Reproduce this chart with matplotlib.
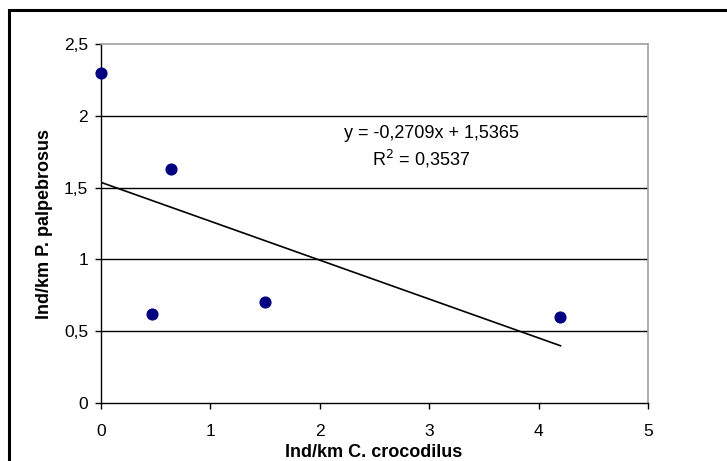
import matplotlib
matplotlib.use("Agg")
import matplotlib.pyplot as plt
from matplotlib.patches import Rectangle

plt.rcParams['font.family'] = ['Liberation Sans', 'DejaVu Sans']

x_vals = [0.0, 0.47, 0.64, 1.5, 4.2]
y_vals = [2.3, 0.62, 1.63, 0.70, 0.60]
slope = -0.2709
intercept = 1.5365
eq_text = "y = -0,2709x + 1,5365"
r2_text = "R$^2$ = 0,3537"
x_ticks = [0, 1, 2, 3, 4, 5]
x_tick_labels = ["0", "1", "2", "3", "4", "5"]
y_ticks = [0, 0.5, 1, 1.5, 2, 2.5]
y_tick_labels = ["0", "0,5", "1", "1,5", "2", "2,5"]

W, H = 727, 461
fig = plt.figure(figsize=(W / 100, H / 100), dpi=100)
ax = fig.add_axes([101 / W, 1 - 403 / H, (648 - 101) / W, (403 - 44) / H])

# outer frame (extends beyond right/bottom)
fig.patches.append(Rectangle((9 / W, -0.1), 1.2, 1 - 10 / H + 0.1,
                             transform=fig.transFigure, fill=False,
                             edgecolor='black', linewidth=2.2))

ax.set_xlim(0, 5)
ax.set_ylim(0, 2.5)
for yv in y_ticks[1:-1]:
    ax.axhline(yv, color='black', linewidth=1.0, zorder=1)

ax.scatter(x_vals, y_vals, s=60, color='#000080', zorder=3, clip_on=False)
x0, x1 = min(x_vals), max(x_vals)
ax.plot([x0, x1], [slope * x0 + intercept, slope * x1 + intercept],
        color='black', linewidth=1.2, zorder=2)

def px(xp, yp):
    return (xp / W, 1 - yp / H)

fig.text(*px(431, 133), eq_text, ha='center', va='center', fontsize=13)
fig.text(*px(421, 159), r2_text, ha='center', va='center', fontsize=13)

ax.set_xticks(x_ticks)
ax.set_xticklabels(x_tick_labels)
ax.set_yticks(y_ticks)
ax.set_yticklabels(y_tick_labels)
ax.tick_params(direction='out', length=4.3, width=1, labelsize=12.5, color='black')
ax.tick_params(axis='x', pad=11)
ax.tick_params(axis='y', pad=5)

for s in ['left', 'bottom']:
    ax.spines[s].set_color('black')
    ax.spines[s].set_linewidth(1.0)
for s in ['top', 'right']:
    ax.spines[s].set_color('#a0a0a0')
    ax.spines[s].set_linewidth(1.2)

ax.set_xlabel("")
ax.set_ylabel("")
fig.text(*px(374, 452), "Ind/km C. crocodilus", ha='center', va='center',
         fontsize=13, fontweight='bold')
fig.text(*px(45, 224), "Ind/km P. palpebrosus", ha='center', va='center',
         fontsize=13, fontweight='bold', rotation=90)

fig.savefig("out.png", dpi=100, facecolor='white')
